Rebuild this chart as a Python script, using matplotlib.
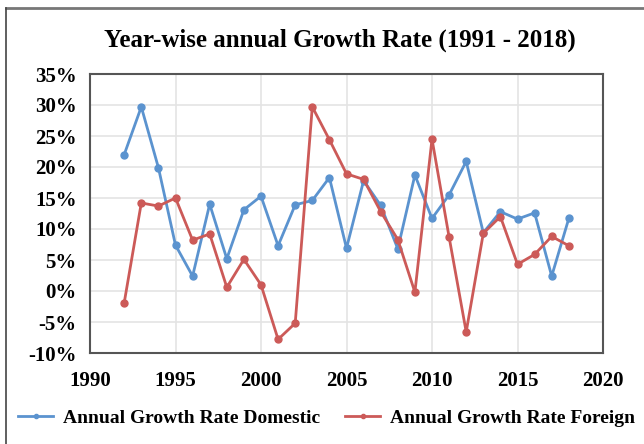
import numpy as np
import matplotlib.pyplot as plt
from matplotlib.lines import Line2D

years = list(range(1992, 2019))
domestic = [22.0, 29.7, 19.9, 7.4, 2.4, 14.0, 5.2, 13.1, 15.3, 7.3, 13.9, 14.6, 18.3,
            6.9, 17.8, 13.8, 6.8, 18.7, 11.7, 15.5, 20.9, 9.4, 12.8, 11.6, 12.6, 2.4, 11.7]
foreign = [-1.9, 14.2, 13.7, 15.0, 8.2, 9.2, 0.6, 5.1, 1.0, -7.8, -5.2, 29.7, 24.4,
           18.9, 18.0, 12.8, 8.3, -0.2, 24.5, 8.7, -6.6, 9.3, 12.0, 4.3, 5.9, 8.8, 7.3]
x_ticks = [1990, 1995, 2000, 2005, 2010, 2015, 2020]
y_ticks = [-10, -5, 0, 5, 10, 15, 20, 25, 30, 35]

plt.rcParams['font.family'] = ['Liberation Serif', 'DejaVu Serif']
plt.rcParams['font.weight'] = 'bold'

fig = plt.figure(figsize=(6.44, 4.44), dpi=100)
ax = fig.add_axes([90 / 644, 1 - 353 / 444, 513 / 644, 279 / 444])

blue = '#5b93cf'
red = '#cc5a58'
ax.plot(years, domestic, color=blue, marker='o', markersize=5, lw=2,
        label='Annual Growth Rate Domestic')
ax.plot(years, foreign, color=red, marker='o', markersize=5, lw=2,
        label='Annual Growth Rate Foreign')

ax.set_xlim(1990, 2020)
ax.set_ylim(-10, 35)
ax.set_xticks(x_ticks)
ax.set_yticks(y_ticks)
ax.set_yticklabels([f"{v}%" for v in y_ticks])
ax.tick_params(length=0, labelsize=15)
ax.tick_params(axis='y', pad=9.5)
ax.tick_params(axis='x', pad=13)
for lab in ax.get_xticklabels() + ax.get_yticklabels():
    lab.set_fontweight('bold')
ax.grid(True, color='#e4e4e4', lw=1.2)
ax.set_axisbelow(True)
for s in ax.spines.values():
    s.set_color('#555555')
    s.set_linewidth(1.5)

fig.text(0.528, 1 - 40 / 444, "Year-wise annual Growth Rate (1991 - 2018)",
         ha='center', va='center', fontsize=18, fontweight='bold')

fig.legend(loc='center', bbox_to_anchor=(0.507, 1 - 418 / 444), ncol=2, frameon=False,
           handlelength=1.8, handletextpad=0.5, columnspacing=1.3, markerscale=0.6,
           prop={'weight': 'bold', 'size': 14})

# outer frame (top and left)
fig.add_artist(Line2D([6 / 644, 1], [1 - 8 / 444, 1 - 8 / 444], color='#777777', lw=2,
                      transform=fig.transFigure))
fig.add_artist(Line2D([6 / 644, 6 / 644], [0, 1 - 8 / 444], color='#444444', lw=1.2,
                      transform=fig.transFigure))

fig.savefig('out.png', dpi=100)
